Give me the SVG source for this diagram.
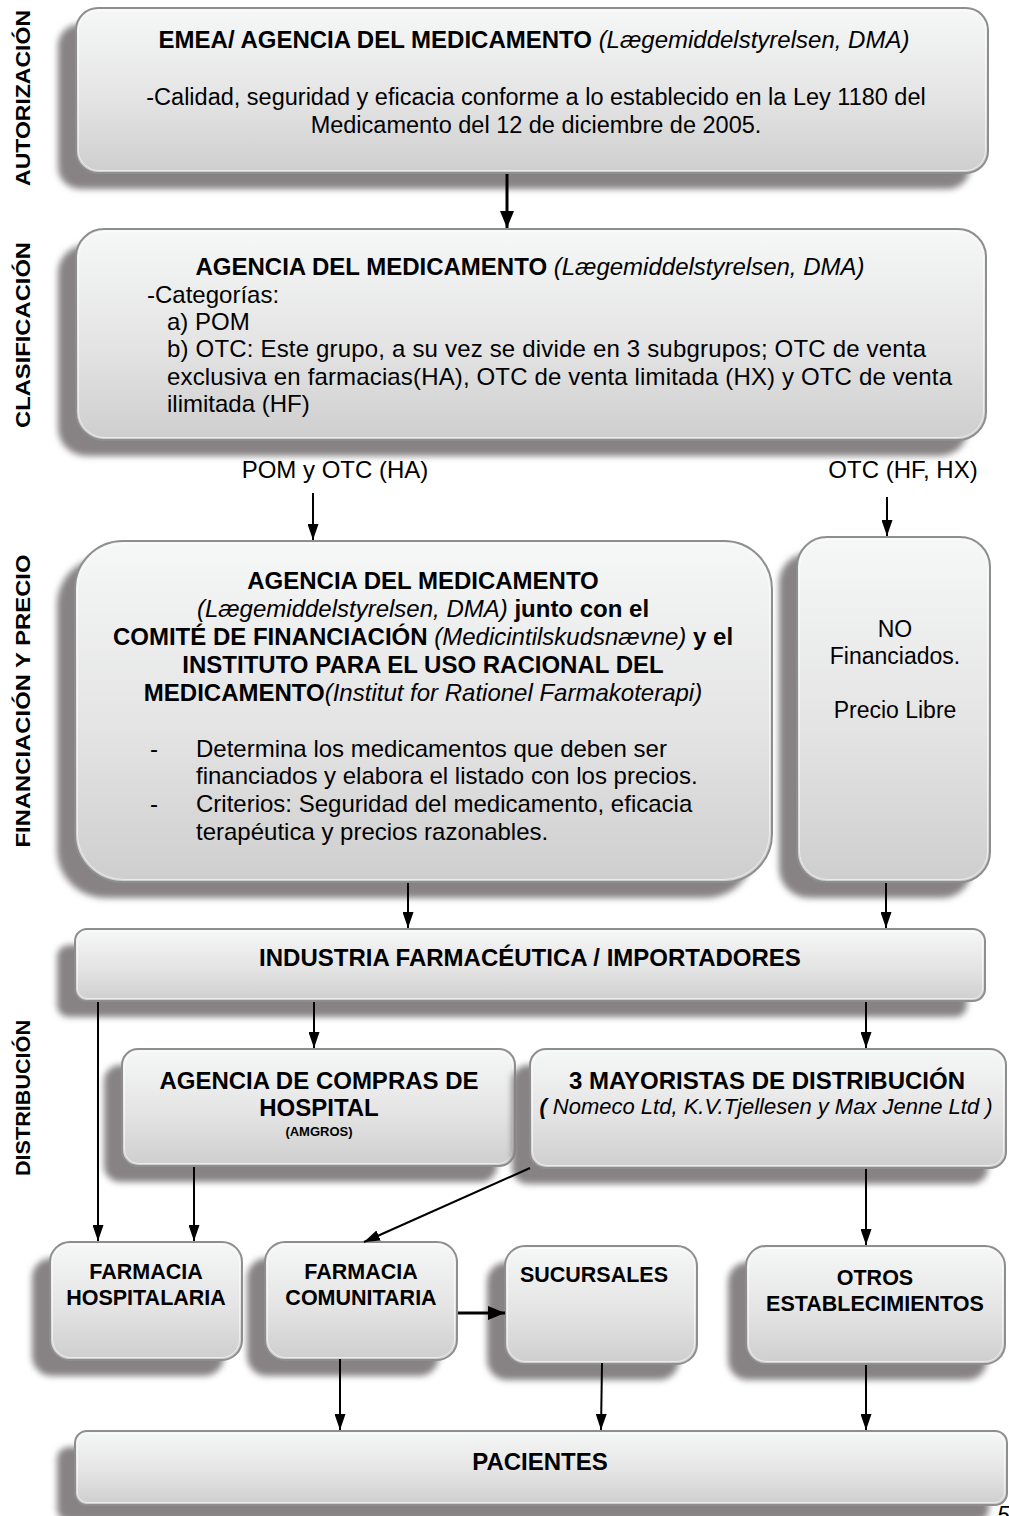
<svg xmlns="http://www.w3.org/2000/svg" width="1009" height="1516" viewBox="0 0 1009 1516">
  <defs>
    <linearGradient id="boxFill" x1="0" y1="0" x2="0" y2="1">
      <stop offset="0" stop-color="#f6f7f7"/>
      <stop offset="0.55" stop-color="#e4e4e4"/>
      <stop offset="1" stop-color="#cecece"/>
    </linearGradient>
    <filter id="soft" x="-10%" y="-10%" width="120%" height="120%">
      <feGaussianBlur stdDeviation="3"/>
    </filter>
    <marker id="arrow" viewBox="0 0 16 11" refX="16" refY="5.5" markerWidth="16" markerHeight="11" markerUnits="userSpaceOnUse" orient="auto">
      <path d="M0,0 L16,5.5 L0,11 z" fill="#000"/>
    </marker>
    <marker id="arrowBig" viewBox="0 0 17 14" refX="17" refY="7" markerWidth="17" markerHeight="14" markerUnits="userSpaceOnUse" orient="auto">
      <path d="M0,0 L17,7 L0,14 z" fill="#000"/>
    </marker>
  </defs>
  <style>
    .shadow { fill: #878384; filter: url(#soft); }
    .box { fill: url(#boxFill); stroke: #8e8e8e; stroke-width: 2; }
    .hl { fill: none; stroke: #ffffff; stroke-opacity: 0.6; stroke-width: 1; }
    text { font-family: "Liberation Sans", Arial, sans-serif; fill: #000; }
    .t { font-size: 24px; }
    .b { font-weight: bold; }
    .i { font-style: italic; font-weight: normal; }
    .c { text-anchor: middle; }
    .s { font-size: 21.5px; font-weight: bold; text-anchor: middle; }
    .side { font-size: 21px; font-weight: bold; text-anchor: middle; }
    .wire { fill: none; stroke: #000; stroke-width: 2; marker-end: url(#arrow); }
    .wire.thick { stroke-width: 3; marker-end: url(#arrowBig); }
  </style>

  <!-- stage labels, rotated along the left margin -->
  <g id="stage-labels">
    <text class="side" transform="translate(30,98) rotate(-90)" textLength="176" lengthAdjust="spacingAndGlyphs">AUTORIZACIÓN</text>
    <text class="side" transform="translate(30,335) rotate(-90)" textLength="186" lengthAdjust="spacingAndGlyphs">CLASIFICACIÓN</text>
    <text class="side" transform="translate(30,701) rotate(-90)" textLength="293" lengthAdjust="spacingAndGlyphs">FINANCIACIÓN Y PRECIO</text>
    <text class="side" transform="translate(30,1098) rotate(-90)" textLength="156" lengthAdjust="spacingAndGlyphs">DISTRIBUCIÓN</text>
  </g>

  <!-- AUTORIZACIÓN -->
  <g id="autorizacion">
    <rect class="shadow" x="58" y="24" width="912" height="165" rx="22"/>
    <rect class="box" x="76" y="8" width="912" height="165" rx="22"/>
    <rect class="hl" x="78.5" y="10.5" width="907" height="160" rx="20"/>
    <text class="t c b" x="534" y="48">EMEA/ AGENCIA DEL MEDICAMENTO <tspan class="i">(Lægemiddelstyrelsen, DMA)</tspan></text>
    <text class="c" x="536" y="105" font-size="23.5">-Calidad, seguridad y eficacia conforme a lo establecido en la Ley 1180 del</text>
    <text class="c" x="536" y="133" font-size="23.5">Medicamento del 12 de diciembre de 2005.</text>
  </g>

  <!-- CLASIFICACIÓN -->
  <g id="clasificacion">
    <rect class="shadow" x="58" y="245" width="910" height="211" rx="28"/>
    <rect class="box" x="76" y="229" width="910" height="211" rx="28"/>
    <rect class="hl" x="78.5" y="231.5" width="905" height="206" rx="26"/>
    <text class="t c b" x="530" y="275">AGENCIA DEL MEDICAMENTO <tspan class="i">(Lægemiddelstyrelsen, DMA)</tspan></text>
    <text class="t" x="147" y="303">-Categorías:</text>
    <text class="t" x="167" y="330">a) POM</text>
    <text class="t" x="167" y="357" textLength="759" lengthAdjust="spacing">b) OTC: Este grupo, a su vez se divide en 3 subgrupos; OTC de venta</text>
    <text class="t" x="167" y="385" textLength="785" lengthAdjust="spacing">exclusiva en farmacias(HA), OTC de venta limitada (HX) y OTC de venta</text>
    <text class="t" x="167" y="412">ilimitada (HF)</text>
  </g>

  <!-- branch labels -->
  <g id="branch-labels">
    <text class="t c" x="335" y="478">POM y OTC (HA)</text>
    <text class="t c" x="903" y="478">OTC (HF, HX)</text>
  </g>

  <!-- FINANCIACIÓN: financed medicines -->
  <g id="financiacion">
    <rect class="shadow" x="57" y="557" width="697" height="341" rx="48"/>
    <rect class="box" x="75" y="541" width="697" height="341" rx="48"/>
    <rect class="hl" x="77.5" y="543.5" width="692" height="336" rx="46"/>
    <text class="t c b" x="423" y="589">AGENCIA DEL MEDICAMENTO</text>
    <text class="t c" x="423" y="617"><tspan class="i">(Lægemiddelstyrelsen, DMA)</tspan><tspan class="b"> junto con el</tspan></text>
    <text class="t c b" x="423" y="645">COMITÉ DE FINANCIACIÓN <tspan class="i">(Medicintilskudsnævne)</tspan> y el</text>
    <text class="t c b" x="423" y="673">INSTITUTO PARA EL USO RACIONAL DEL</text>
    <text class="t c b" x="423" y="701">MEDICAMENTO<tspan class="i">(Institut for Rationel Farmakoterapi)</tspan></text>
    <text class="t" x="150" y="757">-</text>
    <text class="t" x="196" y="757">Determina los medicamentos que deben ser</text>
    <text class="t" x="196" y="784">financiados y elabora el listado con los precios.</text>
    <text class="t" x="150" y="812">-</text>
    <text class="t" x="196" y="812">Criterios: Seguridad del medicamento, eficacia</text>
    <text class="t" x="196" y="840">terapéutica y precios razonables.</text>
  </g>

  <!-- FINANCIACIÓN: non-financed medicines -->
  <g id="no-financiados">
    <rect class="shadow" x="779" y="553" width="193" height="345" rx="30"/>
    <rect class="box" x="797" y="537" width="193" height="345" rx="30"/>
    <rect class="hl" x="799.5" y="539.5" width="188" height="340" rx="28"/>
    <text class="c" x="895" y="637" font-size="23">NO</text>
    <text class="c" x="895" y="664" font-size="23">Financiados.</text>
    <text class="c" x="895" y="718" font-size="23">Precio Libre</text>
  </g>

  <!-- DISTRIBUCIÓN -->
  <g id="industria">
    <rect class="shadow" x="57" y="945" width="910" height="72" rx="12"/>
    <rect class="box" x="75" y="929" width="910" height="72" rx="12"/>
    <rect class="hl" x="77.5" y="931.5" width="905" height="67" rx="10"/>
    <text class="t c b" x="530" y="966">INDUSTRIA FARMACÉUTICA / IMPORTADORES</text>
  </g>

  <g id="agencia-compras">
    <rect class="shadow" x="104" y="1065" width="393" height="117" rx="16"/>
    <rect class="box" x="122" y="1049" width="393" height="117" rx="16"/>
    <rect class="hl" x="124.5" y="1051.5" width="388" height="112" rx="14"/>
    <text class="t c b" x="319" y="1089">AGENCIA DE COMPRAS DE</text>
    <text class="t c b" x="319" y="1116">HOSPITAL</text>
    <text class="c b" x="319" y="1136" font-size="13">(AMGROS)</text>
  </g>

  <g id="mayoristas">
    <rect class="shadow" x="512" y="1065" width="476" height="119" rx="16"/>
    <rect class="box" x="530" y="1049" width="476" height="119" rx="16"/>
    <rect class="hl" x="532.5" y="1051.5" width="471" height="114" rx="14"/>
    <text class="t c b" x="767" y="1089">3 MAYORISTAS DE DISTRIBUCIÓN</text>
    <text class="c i" x="766" y="1114" font-size="22"><tspan font-weight="bold">(</tspan> Nomeco Ltd, K.V.Tjellesen y Max Jenne Ltd )</text>
  </g>

  <g id="farmacia-hospitalaria">
    <rect class="shadow" x="32" y="1258" width="192" height="118" rx="20"/>
    <rect class="box" x="50" y="1242" width="192" height="118" rx="20"/>
    <rect class="hl" x="52.5" y="1244.5" width="187" height="113" rx="18"/>
    <text class="s" x="146" y="1279">FARMACIA</text>
    <text class="s" x="146" y="1305">HOSPITALARIA</text>
  </g>

  <g id="farmacia-comunitaria">
    <rect class="shadow" x="247" y="1258" width="192" height="118" rx="20"/>
    <rect class="box" x="265" y="1242" width="192" height="118" rx="20"/>
    <rect class="hl" x="267.5" y="1244.5" width="187" height="113" rx="18"/>
    <text class="s" x="361" y="1279">FARMACIA</text>
    <text class="s" x="361" y="1305">COMUNITARIA</text>
  </g>

  <g id="sucursales">
    <rect class="shadow" x="487" y="1262" width="192" height="118" rx="20"/>
    <rect class="box" x="505" y="1246" width="192" height="118" rx="20"/>
    <rect class="hl" x="507.5" y="1248.5" width="187" height="113" rx="18"/>
    <text class="s" x="594" y="1282">SUCURSALES</text>
  </g>

  <g id="otros-establecimientos">
    <rect class="shadow" x="728" y="1262" width="259" height="118" rx="20"/>
    <rect class="box" x="746" y="1246" width="259" height="118" rx="20"/>
    <rect class="hl" x="748.5" y="1248.5" width="254" height="113" rx="18"/>
    <text class="s" x="875" y="1285">OTROS</text>
    <text class="s" x="875" y="1311">ESTABLECIMIENTOS</text>
  </g>

  <g id="pacientes">
    <rect class="shadow" x="57" y="1447" width="932" height="74" rx="12"/>
    <rect class="box" x="75" y="1431" width="932" height="74" rx="12"/>
    <rect class="hl" x="77.5" y="1433.5" width="927" height="69" rx="10"/>
    <text class="t c b" x="540" y="1470">PACIENTES</text>
  </g>

  <!-- connectors, drawn over the box shadows -->
  <g id="connectors">
    <path class="wire thick" d="M507,174 L507,228"/>
    <path class="wire" d="M313,493 L313,540"/>
    <path class="wire" d="M887,497 L887,536"/>
    <path class="wire" d="M408,883 L408,928"/>
    <path class="wire" d="M886,883 L886,928"/>
    <path class="wire" d="M314,1002 L314,1048"/>
    <path class="wire" d="M866,1002 L866,1048"/>
    <path class="wire" d="M98,1002 L98,1241"/>
    <path class="wire" d="M194,1167 L194,1241"/>
    <path class="wire" d="M530,1168 L364,1242"/>
    <path class="wire" d="M866,1169 L866,1245"/>
    <path class="wire thick" d="M458,1313 L505,1313"/>
    <path class="wire" d="M340,1359 L340,1430"/>
    <path class="wire" d="M602,1363 L601,1430"/>
    <path class="wire" d="M866,1365 L866,1430"/>
  </g>

  <!-- page number, cut by the lower edge -->
  <text class="i" x="997" y="1523" font-size="23">5</text>
</svg>
